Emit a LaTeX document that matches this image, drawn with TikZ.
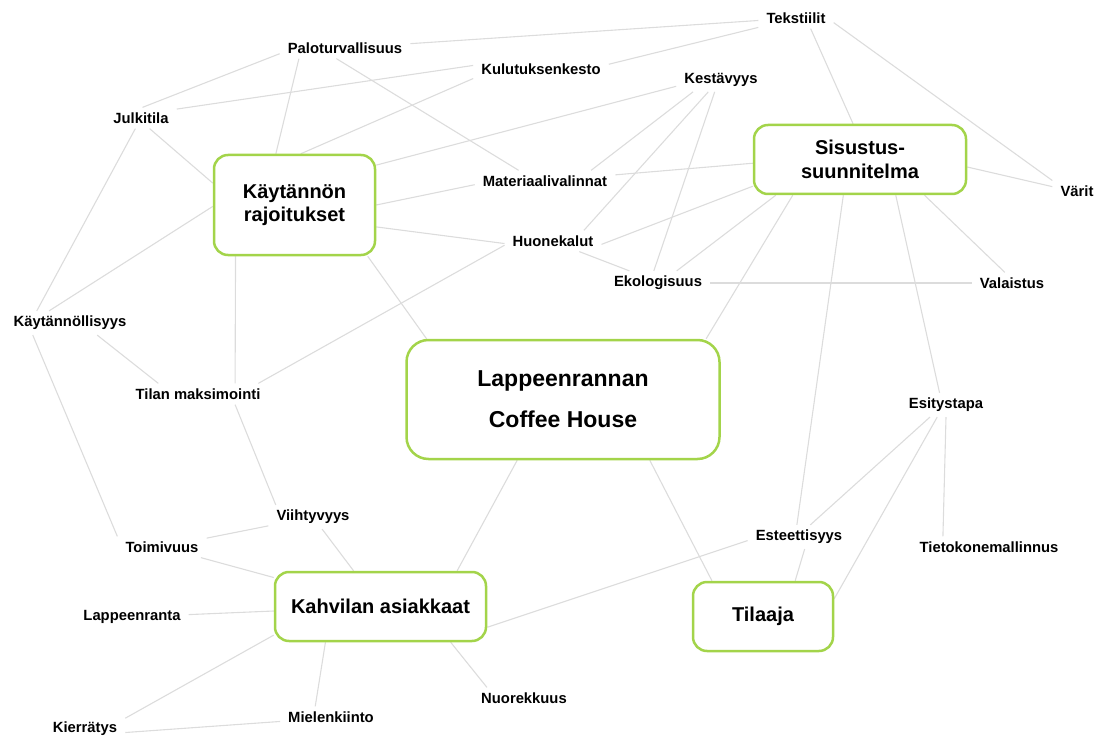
\documentclass[tikz,border=0pt]{standalone}
\usepackage{fontspec}
\setmainfont{Liberation Sans}
\usetikzlibrary{backgrounds}
\definecolor{boxgreen}{RGB}{163,212,74}
\definecolor{edgegray}{RGB}{220,220,220}
\begin{document}
\begin{tikzpicture}[x=1pt,y=-1pt,
  lbl/.style={font=\fontsize{14.8}{17}\selectfont\bfseries, inner xsep=8pt, inner ysep=5pt, text=black},
  box/.style={draw=boxgreen, line width=2.5pt, rounded corners=14pt, fill=white, align=center,
    font=\fontsize{20}{23}\selectfont\bfseries, text=black},
  edge/.style={draw=edgegray, line width=1.1pt}]
\useasboundingbox (0,0) rectangle (1103,738);

% main boxes
\node[box, rounded corners=22pt, minimum width=313pt, minimum height=119pt,
  font=\fontsize{23}{41}\selectfont\bfseries] (ch) at (563,399.5) {Lappeenrannan\\Coffee House};
\node[box, minimum width=161pt, minimum height=100pt] (kay) at (294.5,205) {Käytännön\\rajoitukset};
\node[box, minimum width=212pt, minimum height=69pt, font=\fontsize{20}{24}\selectfont\bfseries] (sis) at (860,159.5) {Sisustus-\\suunnitelma};
\node[box, minimum width=211pt, minimum height=69pt] (kah) at (380.5,606.5) {Kahvilan asiakkaat};
\node[box, minimum width=140pt, minimum height=69pt] (til) at (763,616.5) {Tilaaja};

% labels
\node[lbl] (tek) at (796,18) {Tekstiilit};
\node[lbl] (pal) at (345,48) {Paloturvallisuus};
\node[lbl] (kul) at (541,69) {Kulutuksenkesto};
\node[lbl] (kes) at (721,80) {Kestävyys};
\node[lbl] (jul) at (141,118) {Julkitila};
\node[lbl] (mat) at (545,181) {Materiaalivalinnat};
\node[lbl] (var) at (1077,191) {Värit};
\node[lbl] (huo) at (553,241) {Huonekalut};
\node[lbl] (eko) at (658,283) {Ekologisuus};
\node[lbl] (val) at (1012,283) {Valaistus};
\node[lbl] (kaytl) at (70,323) {Käytännöllisyys};
\node[lbl] (tmx) at (198,394) {Tilan maksimointi};
\node[lbl] (esi) at (946,405) {Esitystapa};
\node[lbl] (vii) at (313,517) {Viihtyvyys};
\node[lbl] (toi) at (162,547) {Toimivuus};
\node[lbl] (est) at (799,537) {Esteettisyys};
\node[lbl] (tie) at (989,547) {Tietokonemallinnus};
\node[lbl] (lap) at (132,617) {Lappeenranta};
\node[lbl] (nuo) at (524,698) {Nuorekkuus};
\node[lbl] (mie) at (331,717) {Mielenkiinto};
\node[lbl] (kie) at (85,729) {Kierrätys};

\begin{scope}[on background layer]
\draw[edge] (tek) -- (pal);
\draw[edge] (tek.194) -- (kul.4);
\draw[edge] (tek.324) -- (sis.101);
\draw[edge] (tek.353) -- (var.157);
\draw[edge] (pal.185) -- (jul.82);
\draw[edge] (pal.193) -- (kay.110);
\draw[edge] (pal.231) -- (mat.158);
\draw[edge] (kul.177) -- (jul.14);
\draw[edge] (kul.188) -- (kay.83);
\draw[edge] (kes.188) -- (kay.26);
\draw[edge] (kes.203) -- (mat.13);
\draw[edge] (kes.223) -- (huo.19);
\draw[edge] (kes.242) -- (eko.109);
\draw[edge] (mat.183) -- (kay.0);
\draw[edge] (mat.5) -- (sis.182);
\draw[edge] (huo.183) -- (kay.345);
\draw[edge] (huo.356) -- (sis.194);
\draw[edge] (huo.338) -- (eko.157);
\draw[edge] (huo.185) -- (tmx.10);
\draw[edge] (eko.33) -- (sis.203);
\draw[edge] (eko) -- (val);
\draw[edge] (sis.356) -- (var.170);
\draw[edge] (sis.331) -- (val.124);
\draw[edge] (sis.208) -- (ch.23);
\draw[edge] (sis.245) -- (est.100);
\draw[edge] (sis.315) -- (esi.118);
\draw[edge] (esi.217) -- (est.47);
\draw[edge] (esi.234) -- (til.14);
\draw[edge] (esi.south) -- (tie.167);
\draw[edge] (est.295) -- (til.48);
\draw[edge] (est.184) -- (kah.349);
\draw[edge] (ch.325) -- (til.145);
\draw[edge] (ch.233) -- (kah.25);
\draw[edge] (ch.156) -- (kay.325);
\draw[edge] (kay.165) -- (jul.309);
\draw[edge] (kay.181) -- (kaytl.150);
\draw[edge] (kay.221) -- (tmx.16);
\draw[edge] (jul.242) -- (kaytl.160);
\draw[edge] (kaytl.336) -- (tmx.165);
\draw[edge] (kaytl.198) -- (toi.north west);
\draw[edge] (tmx.344) -- (vii.162);
\draw[edge] (vii) -- (toi);
\draw[edge] (vii) -- (kah);
\draw[edge] (toi) -- (kah);
\draw[edge] (lap) -- (kah);
\draw[edge] (kah.195) -- (kie.15);
\draw[edge] (kah.213) -- (mie.146);
\draw[edge] (kah.333) -- (nuo.164);
\draw[edge] (kie.355) -- (mie.185);
\end{scope}
\end{tikzpicture}
\end{document}
